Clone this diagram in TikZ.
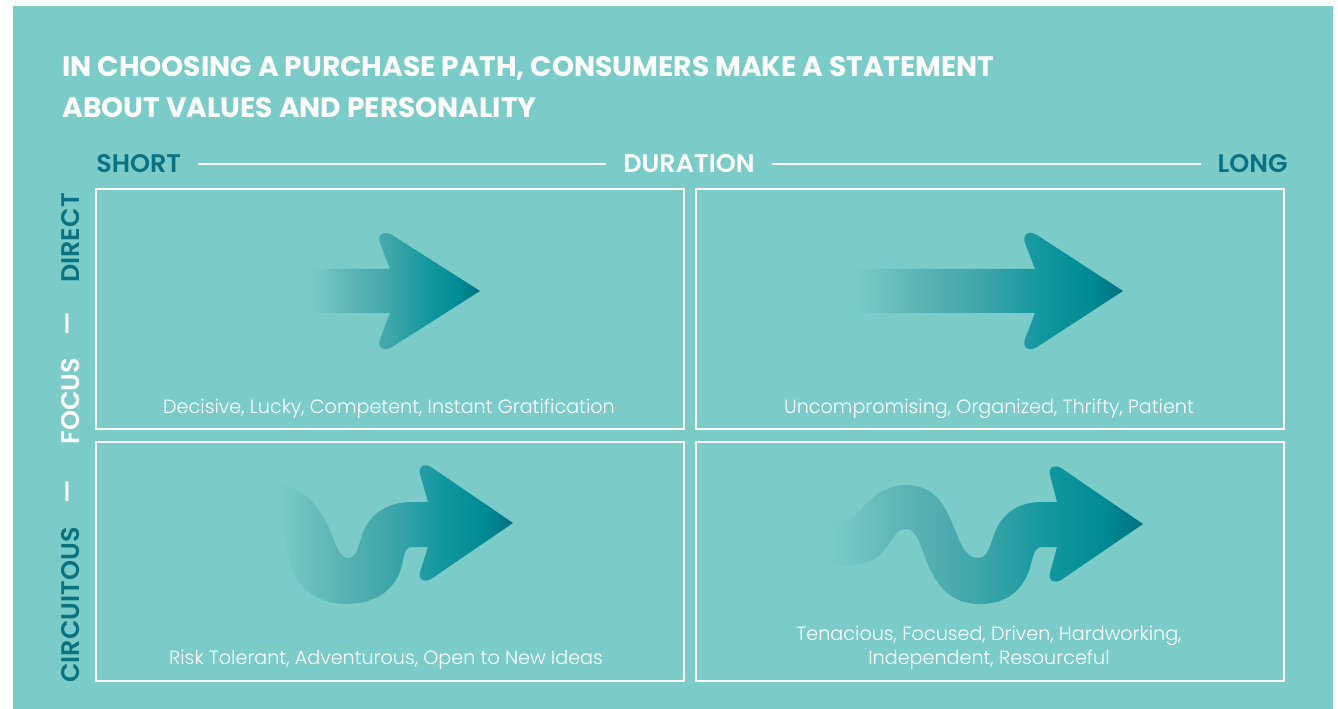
\documentclass[tikz,border=0pt]{standalone}
\usepackage{fontspec}
\setmainfont{Poppins}
\newfontfamily\lightfont{Poppins Light}
\newfontfamily\medfont{Poppins SemiBold}
\usepackage{xcolor}
\usepackage{tikz}
\usetikzlibrary{positioning}
\definecolor{bgteal}{HTML}{7BCCC8}
\definecolor{dkteal}{HTML}{0B7282}
\definecolor{lteal}{HTML}{5DB4B5}
\definecolor{midteal}{HTML}{3FA6AA}
\definecolor{deepteal}{HTML}{12979E}
\definecolor{headteal}{HTML}{008A93}
\definecolor{tipteal}{HTML}{00717F}
\pgfdeclarehorizontalshading{pathfade}{100bp}{color(0bp)=(bgteal); color(25bp)=(bgteal);
  color(37bp)=(lteal); color(48.5bp)=(midteal); color(60bp)=(deepteal);
  color(69bp)=(headteal); color(75bp)=(tipteal); color(100bp)=(tipteal)}
\tikzset{
	quad/.style={
			draw=white, line width=0.9pt, inner sep=0pt,
			minimum width=11.76cm, minimum height=4.79cm
		}
}

\begin{document}
\begin{tikzpicture}[x=0.02cm, y=-0.02cm]
    \tikzstyle{title}=[anchor=base west, inner sep=0pt, text=white, font=\bfseries\fontsize{16}{19}\selectfont]
    \tikzstyle{axis}=[inner sep=0pt, font=\medfont\fontsize{14.5}{17}\selectfont]
    \tikzstyle{caption}=[anchor=base, inner sep=0pt, align=center, text=white, font=\lightfont\fontsize{10.9}{13.6}\selectfont]
    \tikzstyle{rule}=[draw=white, line width=0.8pt, shorten <=9.5pt, shorten >=9.5pt]
    \tikzstyle{fade}=[shading=pathfade]

  \useasboundingbox (0,0) rectangle (1338,709);
  \fill[white] (0,0) rectangle (1338,709);
  \fill[bgteal] (13,6) rectangle (1333,709);

  \node (title1) at (62,77) [title] {IN CHOOSING A PURCHASE PATH, CONSUMERS MAKE A STATEMENT};
  \node (title2) at (62,118) [title] {ABOUT VALUES AND PERSONALITY};

    % duration axis
    \node (short) at (96,164) [axis, anchor=west, text=dkteal] {SHORT};
    \node (dur) at (689,164) [axis, text=white] {DURATION};
    \node (long) at (1288,164) [axis, anchor=east, text=dkteal] {LONG};
  \draw[rule] (short.east) -- (dur.west);
  \draw[rule] (dur.east) -- (long.west);

    % focus axis
    \node (direct) at (71,238) [axis, rotate=90, text=dkteal] {DIRECT};
    \node (dash1) at (71,324) [axis, rotate=90, text=white] {—};
    \node (focus) at (71,401) [axis, rotate=90, text=white] {FOCUS};
    \node (dash2) at (71,492) [axis, rotate=90, text=white] {—};
    \node (circ) at (71,605) [axis, rotate=90, text=dkteal] {CIRCUITOUS};

    \node (tl) at (390,309) [quad] {};
    \node (tr) at (990,309) [quad] {};
    \node (bl) at (390,561.5) [quad] {};
    \node (br) at (990,561.5) [quad] {};

    \node (tlcap) at (389,413) [caption] {Decisive, Lucky, Competent, Instant Gratification};
    \node (trcap) at (989,413) [caption] {Uncompromising, Organized, Thrifty, Patient};
    \node (blcap) at (386,664) [caption] {Risk Tolerant, Adventurous, Open to New Ideas};
    \node (brcap) at (989,664) [caption] {Tenacious, Focused, Driven, Hardworking,\\Independent, Resourceful};

  % arrows
  \shade[fade] (310,269) -- (390,269) -- (380,243) .. controls (377,234) and (384,230) .. (392,235)
    -- (480,291) -- (392,347) .. controls (384,352) and (377,348) .. (380,339)
    -- (390,313) -- (310,313) -- cycle;
  \shade[fade] (852,269) -- (1035,269) -- (1025,243) .. controls (1022,234) and (1029,230) .. (1037,235)
    -- (1123,291) -- (1037,347) .. controls (1029,352) and (1022,348) .. (1025,339)
    -- (1035,313) -- (852,313) -- cycle;
  \shade[fade] (278,485) .. controls (305,488) and (318,505) .. (330,530)
    .. controls (336,545) and (340,558) .. (348,558)
    .. controls (356,558) and (358,548) .. (362,535)
    .. controls (370,512) and (390,502) .. (412,502)
    -- (428,502) -- (420,474) .. controls (418,466) and (424,463) .. (431,467)
    -- (513,523) -- (431,579) .. controls (424,583) and (418,580) .. (420,572)
    -- (428,547) -- (412,547)
    .. controls (405,547) and (404,555) .. (402,565)
    .. controls (396,590) and (375,604) .. (347,604)
    .. controls (315,604) and (295,585) .. (290,560)
    .. controls (287,548) and (285,538) .. (283,530) -- cycle;
  \shade[fade] (828,521) -- (845,521) .. controls (860,519) and (870,486) .. (905,485)
    .. controls (935,485) and (945,505) .. (955,530)
    .. controls (962,548) and (967,558) .. (978,558)
    .. controls (988,558) and (990,545) .. (995,532)
    .. controls (1003,512) and (1020,502) .. (1042,502)
    -- (1057,502) -- (1050,475) .. controls (1048,467) and (1054,464) .. (1061,468)
    -- (1143,524) -- (1061,580) .. controls (1054,584) and (1048,581) .. (1050,573)
    -- (1057,547) -- (1042,547)
    .. controls (1035,547) and (1033,555) .. (1030,568)
    .. controls (1022,592) and (1005,604) .. (980,604)
    .. controls (950,604) and (935,585) .. (925,557)
    .. controls (918,538) and (915,529) .. (905,529)
    .. controls (895,529) and (890,545) .. (880,555)
    .. controls (870,563) and (860,565) .. (845,565)
    -- (828,565) -- cycle;
\end{tikzpicture}
\end{document}
